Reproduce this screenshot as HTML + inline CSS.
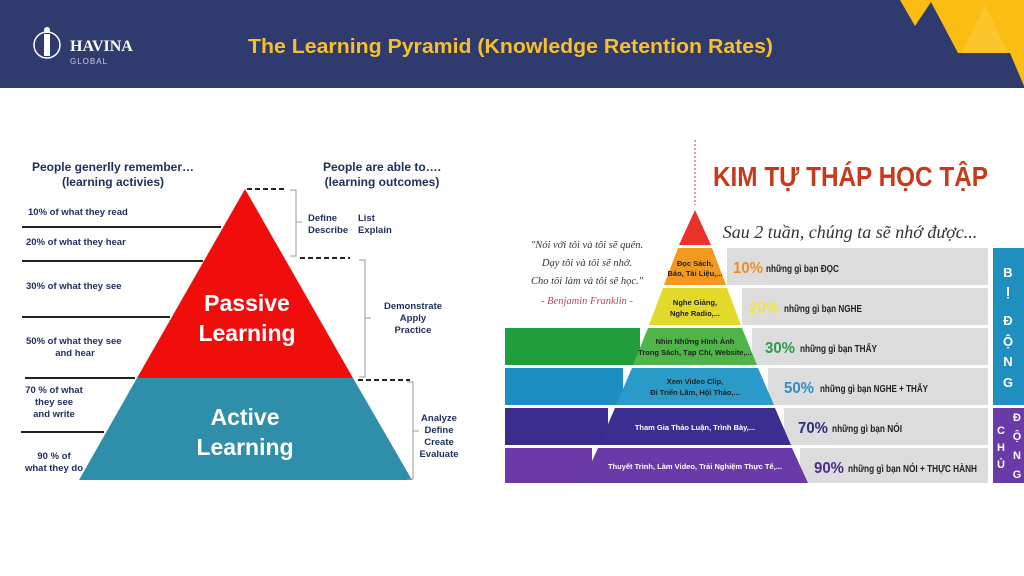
<!DOCTYPE html>
<html><head><meta charset="utf-8"><style>
body{margin:0;width:1024px;height:576px;overflow:hidden;background:#fff;font-family:"Liberation Sans",sans-serif;position:relative}
</style></head><body>
<svg width="1024" height="576" style="position:absolute;left:0;top:0" xmlns="http://www.w3.org/2000/svg" font-family="Liberation Sans, Noto Sans CJK SC, sans-serif">
<rect x="0" y="0" width="1024" height="88" fill="#2f3b6f"/>
<polygon points="900,0 915,26 931,2 958,53 1010,53 1024,86 1024,0" fill="#fbbd12"/>
<polygon points="985,5 962,53 1008,53" fill="#fcc62a"/>
<circle cx="47" cy="45" r="13" fill="none" stroke="#fff" stroke-width="1.5"/>
<rect x="44" y="34" width="6" height="22" fill="#fff"/>
<circle cx="47" cy="30" r="3" fill="#fff"/>
<text x="70" y="51" fill="#fff" font-size="16" font-weight="bold" font-family="Liberation Serif, serif">HAVINA</text>
<text x="70" y="64" fill="#ccd" font-size="8" letter-spacing="1">GLOBAL</text>
<text x="248" y="53" fill="#f5c02c" font-size="20" font-weight="bold" textLength="525" lengthAdjust="spacingAndGlyphs">The Learning Pyramid (Knowledge Retention Rates)</text>

<polygon points="245,189 137,378 353,378" fill="#f20d0d"/>
<polygon points="137,378 353,378 412,480 79,480" fill="#2f8eaa"/>
<g stroke="#222" stroke-width="2">
<line x1="22" y1="227" x2="221" y2="227"/><line x1="22" y1="261" x2="203" y2="261"/>
<line x1="22" y1="317" x2="170" y2="317"/><line x1="25" y1="378" x2="135" y2="378"/>
<line x1="21" y1="432" x2="104" y2="432"/>
</g>
<g stroke="#222" stroke-width="2" stroke-dasharray="5,3">
<line x1="247" y1="189" x2="287" y2="189"/><line x1="300" y1="258" x2="350" y2="258"/><line x1="358" y1="380" x2="410" y2="380"/>
</g>
<g stroke="#999" fill="none" stroke-width="1">
<path d="M290,190 H296 V256 H290 M296,222 H302"/>
<path d="M359,260 H365 V377 H359 M365,318 H371"/>
<path d="M407,382 H413 V479 H407 M413,431 H419"/>
</g>
<g fill="#1f2d5c" font-weight="bold">
<text x="113" y="171" font-size="12" text-anchor="middle">People generlly  remember…</text>
<text x="113" y="186" font-size="12" text-anchor="middle">(learning activies)</text>
<text x="382" y="171" font-size="12" text-anchor="middle">People are able to….</text>
<text x="382" y="186" font-size="12" text-anchor="middle">(learning outcomes)</text>
<g font-size="9.5">
<text x="28" y="215">10% of what they read</text>
<text x="26" y="245">20% of what they hear</text>
<text x="26" y="289">30% of what they see</text>
<text x="26" y="344">50% of what they see</text>
<text x="75" y="356" text-anchor="middle">and hear</text>
<text x="54" y="393" text-anchor="middle">70 % of what</text>
<text x="54" y="405" text-anchor="middle">they see</text>
<text x="54" y="417" text-anchor="middle">and write</text>
<text x="54" y="459" text-anchor="middle">90 % of</text>
<text x="54" y="471" text-anchor="middle">what they do</text>
<text x="308" y="221">Define</text><text x="358" y="221">List</text>
<text x="308" y="233">Describe</text><text x="358" y="233">Explain</text>
<text x="413" y="309" text-anchor="middle">Demonstrate</text>
<text x="413" y="321" text-anchor="middle">Apply</text>
<text x="413" y="333" text-anchor="middle">Practice</text>
<text x="439" y="421" text-anchor="middle">Analyze</text>
<text x="439" y="433" text-anchor="middle">Define</text>
<text x="439" y="445" text-anchor="middle">Create</text>
<text x="439" y="457" text-anchor="middle">Evaluate</text>
</g></g>
<g fill="#fff" font-weight="bold" font-size="23" text-anchor="middle">
<text x="247" y="311">Passive</text><text x="247" y="341">Learning</text>
<text x="245" y="425">Active</text><text x="245" y="455">Learning</text>
</g>

<line x1="695" y1="140" x2="695" y2="205" stroke="#c33" stroke-dasharray="2,2"/>
<text x="713" y="186" fill="#c8391b" font-size="28" font-weight="bold" textLength="275" lengthAdjust="spacingAndGlyphs">KIM TỰ THÁP HỌC TẬP</text>
<text x="850" y="238" fill="#333" font-size="18" font-style="italic" font-family="Liberation Serif, serif" text-anchor="middle">Sau 2 tuần, chúng ta sẽ nhớ được...</text>
<g font-family="Liberation Serif, serif" font-style="italic" font-size="10.5" text-anchor="middle">
<text x="587" y="248" fill="#333">"Nói với tôi và tôi sẽ quên.</text>
<text x="587" y="266" fill="#333">Dạy tôi và tôi sẽ nhớ.</text>
<text x="587" y="284" fill="#333">Cho tôi làm và tôi sẽ học."</text>
<text x="587" y="304" fill="#b5485a">- Benjamin Franklin -</text>
</g>
<g fill="#dcdcdc">
<rect x="727" y="248" width="261" height="37"/><rect x="742" y="288" width="246" height="37"/>
<rect x="752" y="328" width="236" height="37"/><rect x="768" y="368" width="220" height="37"/>
<rect x="784" y="408" width="204" height="37"/><rect x="800" y="448" width="188" height="35"/>
</g>
<rect x="505" y="328" width="135" height="37" fill="#1f9e3b"/>
<rect x="505" y="368" width="118" height="37" fill="#1d8ec2"/>
<rect x="505" y="408" width="103" height="37" fill="#3a2c8c"/>
<rect x="505" y="448" width="87" height="35" fill="#6b3aa6"/>
<polygon points="695,210 679,245 711,245" fill="#e8322a"/>
<polygon points="678,248 712,248 726,285 664,285" fill="#f39a1e"/>
<polygon points="663,288 727,288 741,325 649,325" fill="#e2d92a"/>
<polygon points="648,328 742,328 757,365 633,365" fill="#4fb548"/>
<polygon points="632,368 758,368 774,405 616,405" fill="#2a9bc9"/>
<polygon points="615,408 775,408 791,445 599,445" fill="#3a2f90"/>
<polygon points="598,448 792,448 808,483 582,483" fill="#6a3aa8"/>
<rect x="993" y="248" width="31" height="157" fill="#1f8fc0"/>
<rect x="993" y="408" width="31" height="75" fill="#6a3aa8"/>
<g fill="#222" font-size="7.5" font-weight="bold" text-anchor="middle">
<text x="695" y="266">Đọc Sách,</text><text x="695" y="276">Báo, Tài Liệu,...</text>
<text x="695" y="305">Nghe Giảng,</text><text x="695" y="316">Nghe Radio,...</text>
<text x="695" y="344">Nhìn Những Hình Ảnh</text><text x="695" y="355">Trong Sách, Tạp Chí, Website,...</text>
<text x="695" y="384">Xem Video Clip,</text><text x="695" y="395">Đi Triển Lãm, Hội Thảo,...</text>
</g>
<g fill="#fff" font-size="7.5" font-weight="bold" text-anchor="middle">
<text x="695" y="430">Tham Gia Thảo Luận, Trình Bày,...</text>
<text x="695" y="469">Thuyết Trình, Làm Video, Trải Nghiệm Thực Tế,...</text>
</g>
<g font-size="16" font-weight="bold">
<text x="733" y="273" fill="#e98f2a" textLength="30" lengthAdjust="spacingAndGlyphs">10%</text>
<text x="749" y="313" fill="#f0e44a" textLength="30" lengthAdjust="spacingAndGlyphs">20%</text>
<text x="765" y="353" fill="#2e9a4a" textLength="30" lengthAdjust="spacingAndGlyphs">30%</text>
<text x="784" y="393" fill="#2a8fc8" textLength="30" lengthAdjust="spacingAndGlyphs">50%</text>
<text x="798" y="433" fill="#2e2e7e" textLength="30" lengthAdjust="spacingAndGlyphs">70%</text>
<text x="814" y="473" fill="#4a2e8e" textLength="30" lengthAdjust="spacingAndGlyphs">90%</text>
</g>
<g font-size="10" font-weight="bold" fill="#222" lengthAdjust="spacingAndGlyphs">
<text x="766" y="272" textLength="73" lengthAdjust="spacingAndGlyphs">những gì bạn ĐỌC</text>
<text x="784" y="312" textLength="78" lengthAdjust="spacingAndGlyphs">những gì bạn NGHE</text>
<text x="800" y="352" textLength="77" lengthAdjust="spacingAndGlyphs">những gì bạn THẤY</text>
<text x="820" y="392" textLength="108" lengthAdjust="spacingAndGlyphs">những gì bạn NGHE + THẤY</text>
<text x="832" y="432" textLength="70" lengthAdjust="spacingAndGlyphs">những gì bạn NÓI</text>
<text x="848" y="472" textLength="129" lengthAdjust="spacingAndGlyphs">những gì bạn NÓI + THỰC HÀNH</text>
</g>
<g fill="#fff" font-size="13" font-weight="bold" text-anchor="middle">
<text x="1008" y="277">B</text><text x="1008" y="296">Ị</text><text x="1008" y="325">Đ</text><text x="1008" y="346">Ộ</text><text x="1008" y="366">N</text><text x="1008" y="387">G</text>
</g>
<g fill="#fff" font-size="11" font-weight="bold" text-anchor="middle">
<text x="1001" y="434">C</text><text x="1001" y="451">H</text><text x="1001" y="468">Ủ</text>
<text x="1017" y="421">Đ</text><text x="1017" y="440">Ộ</text><text x="1017" y="459">N</text><text x="1017" y="478">G</text>
</g>
</svg>
</body></html>
